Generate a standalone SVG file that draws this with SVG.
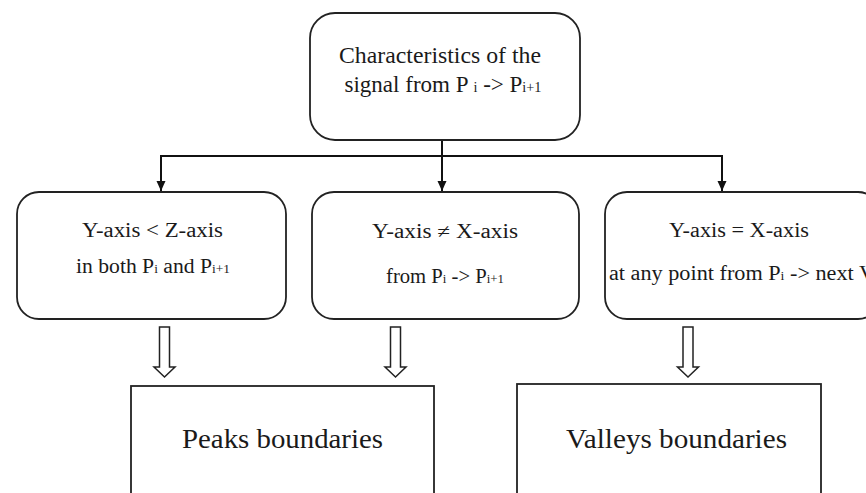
<svg xmlns="http://www.w3.org/2000/svg" width="866" height="493" viewBox="0 0 866 493">
<defs>
<style>
.box{fill:#fff;stroke:#222;stroke-width:1.8}
.t{font-family:"Liberation Serif","Times New Roman",serif;fill:#1a1a1a;text-anchor:middle}
.conn{fill:none;stroke:#111;stroke-width:2}
.block{fill:#fff;stroke:#222;stroke-width:1.5}
.sub{font-size:0.62em}
</style>
<marker id="ah" markerUnits="userSpaceOnUse" markerWidth="12" markerHeight="12" viewBox="0 0 12 12" refX="10" refY="6" orient="auto">
<path d="M0,1.5 L10,6 L0,10.5 Z" fill="#111"/>
</marker>
</defs>
<rect width="866" height="493" fill="#fff"/>

<g id="connectors">
<line class="conn" x1="442" y1="140" x2="442" y2="191" marker-end="url(#ah)"/>
<polyline class="conn" points="161,191 161,156 722,156 722,191" marker-end="url(#ah)"/>
<line class="conn" x1="161" y1="186" x2="161" y2="191" marker-end="url(#ah)"/>
<polygon class="block" points="159.5,327 169.5,327 169.5,367 175,367 164.5,377 154,367 159.5,367"/>
<polygon class="block" points="390.5,327 400.5,327 400.5,367 406,367 395.5,377 385,367 390.5,367"/>
<polygon class="block" points="683,327 693,327 693,367 698.5,367 688,377 677.5,367 683,367"/>
</g>

<g id="top">
<rect class="box" x="310" y="13" width="270" height="127" rx="25" ry="25"/>
<text class="t" x="440" y="63" font-size="23" textLength="202" lengthAdjust="spacingAndGlyphs">Characteristics of the</text>
<text class="t" x="443" y="92" font-size="23" textLength="197" lengthAdjust="spacingAndGlyphs">signal from P <tspan class="sub">i</tspan> -&gt; P<tspan class="sub">i+1</tspan></text>
</g>

<g id="left">
<rect class="box" x="17" y="192" width="269" height="127" rx="22" ry="22"/>
<text class="t" x="152.5" y="237" font-size="20" textLength="141" lengthAdjust="spacingAndGlyphs">Y-axis &lt; Z-axis</text>
<text class="t" x="153" y="273" font-size="20" textLength="154" lengthAdjust="spacingAndGlyphs">in both P<tspan class="sub">i</tspan> and P<tspan class="sub">i+1</tspan></text>
</g>

<g id="middle">
<rect class="box" x="312" y="192" width="267" height="127" rx="22" ry="22"/>
<text class="t" x="445" y="238" font-size="20" textLength="146" lengthAdjust="spacingAndGlyphs">Y-axis ≠  X-axis</text>
<text class="t" x="445" y="283" font-size="20" textLength="118" lengthAdjust="spacingAndGlyphs">from P<tspan class="sub">i</tspan> -&gt; P<tspan class="sub">i+1</tspan></text>
</g>

<g id="right">
<rect class="box" x="605" y="192" width="275" height="127" rx="22" ry="22"/>
<text class="t" x="739" y="237" font-size="20" textLength="140" lengthAdjust="spacingAndGlyphs">Y-axis = X-axis</text>
<text class="t" x="609" y="280" font-size="20" style="text-anchor:start" textLength="266" lengthAdjust="spacingAndGlyphs">at any point from P<tspan class="sub">i</tspan> -&gt; next V</text>
</g>

<g id="peaks">
<rect class="box" x="131" y="386" width="303" height="130"/>
<text class="t" x="282.5" y="448" font-size="27" textLength="201" lengthAdjust="spacingAndGlyphs">Peaks boundaries</text>
</g>

<g id="valleys">
<rect class="box" x="517" y="384" width="304" height="130"/>
<text class="t" x="676.5" y="448" font-size="27" textLength="221" lengthAdjust="spacingAndGlyphs">Valleys boundaries</text>
</g>
</svg>
